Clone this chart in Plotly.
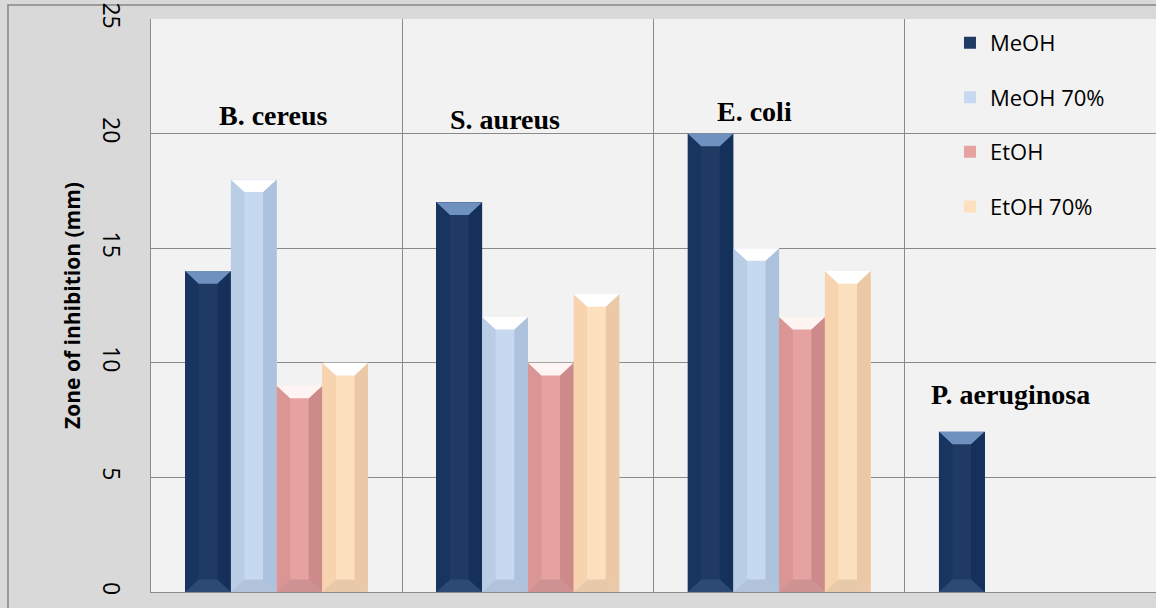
import plotly.graph_objects as go

# Inhibition zone diameters (mm) per bacterium and extract
bacteria = ["B. cereus", "S. aureus", "E. coli", "P. aeruginosa"]
meoh = [14, 17, 20, 7]
meoh_70 = [18, 12, 15, None]
etoh = [9, 10, 12, None]
etoh_70 = [10, 13, 14, None]

series_names = ["MeOH", "MeOH 70%", "EtOH", "EtOH 70%"]
series_values = [meoh, meoh_70, etoh, etoh_70]

# bevel palette per series: face, left edge, right edge, top cap, bottom cap
palette = [
    dict(face="#1f3a63", left="#183560", right="#15305a", top="#6f91c0", bottom="#2c4a73"),
    dict(face="#c6d9f1", left="#b9cde5", right="#adc2dc", top="#ffffff", bottom="#b1c3da"),
    dict(face="#e6a2a1", left="#d99694", right="#cc8b8a", top="#fff4f4", bottom="#cf9292"),
    dict(face="#fde0bd", left="#f8d3b0", right="#ebc8a6", top="#ffffff", bottom="#e8c9aa"),
]

BAR_W = 0.182     # bar width in category units
BEVEL_X = 0.054   # bevel depth, horizontal (category units)
BEVEL_Y = 0.55    # bevel depth, vertical (mm)

fig = go.Figure()


def polys(parts):
    xs, ys = [], []
    for px, py in parts:
        xs += px + [px[0], None]
        ys += py + [py[0], None]
    return xs, ys


for i, (name, vals, col) in enumerate(zip(series_names, series_values, palette)):
    off = (i - 2) * BAR_W
    xcat = list(range(len(bacteria)))
    fig.add_trace(go.Bar(
        x=xcat, y=vals, name=name, width=BAR_W, offset=off,
        marker=dict(color=col["face"], line=dict(width=0)),
        legendgroup=name, hoverinfo="skip",
    ))
    left, right, top, bottom = [], [], [], []
    for c, v in zip(xcat, vals):
        if v is None:
            continue
        x0 = c + off
        x1 = x0 + BAR_W
        xi0, xi1 = x0 + BEVEL_X, x1 - BEVEL_X
        yi0, yi1 = BEVEL_Y, v - BEVEL_Y
        left.append(([x0, xi0, xi0, x0], [0, yi0, yi1, v]))
        right.append(([x1, xi1, xi1, x1], [0, yi0, yi1, v]))
        top.append(([x0, x1, xi1, xi0], [v, v, yi1, yi1]))
        bottom.append(([x0, x1, xi1, xi0], [0, 0, yi0, yi0]))
    for parts, key in ((left, "left"), (right, "right"), (top, "top"), (bottom, "bottom")):
        xs, ys = polys(parts)
        fig.add_trace(go.Scatter(
            x=xs, y=ys, mode="lines", fill="toself", fillcolor=col[key],
            line=dict(width=0, color=col[key]), showlegend=False,
            hoverinfo="skip", legendgroup=name,
        ))

# bacterium names written inside the plot area
label_pos = [(-0.015, 20.8), (0.91, 20.6), (1.9, 20.95), (2.92, 8.6)]
for name, (lx, ly) in zip(bacteria, label_pos):
    fig.add_annotation(
        x=lx, y=ly, text=f"<b>{name}</b>", showarrow=False,
        font=dict(family="Liberation Serif", size=28, color="#000000"),
        xanchor="center", yanchor="middle",
    )

grid = "#8a8a8a"
fig.update_layout(
    width=1156, height=608,
    margin=dict(l=151, r=0, t=19, b=16),
    paper_bgcolor="#d9d9d9", plot_bgcolor="#f2f2f2",
    barmode="overlay", bargap=0,
    font=dict(family="Open Sans", color="#000000"),
    showlegend=True,
    legend=dict(
        x=0.795, y=0.995, xanchor="left", yanchor="top",
        bgcolor="rgba(0,0,0,0)", font=dict(family="Open Sans", size=22),
        traceorder="grouped", tracegroupgap=23, itemwidth=30,
    ),
    xaxis=dict(
        range=[-0.5, 3.5], tickvals=[-0.5, 0.5, 1.5, 2.5, 3.5],
        showticklabels=False, showgrid=True, gridcolor=grid, gridwidth=1,
        showline=True, linecolor=grid, linewidth=1, zeroline=False, ticks="",
    ),
    yaxis=dict(
        range=[0, 25], dtick=5, tickangle=90, showgrid=True, gridcolor=grid,
        gridwidth=1, showline=True, linecolor=grid, linewidth=1, zeroline=False,
        ticks="", ticklabelstandoff=19,
        tickfont=dict(family="Open Sans", size=23, color="#000000"),
        title=dict(text="<b>Zone of inhibition (mm)</b>", standoff=10,
                   font=dict(family="Open Sans", size=21, color="#000000")),
    ),
    shapes=[dict(
        type="rect", xref="paper", yref="paper",
        x0=-0.1423, x1=1.02, y0=-0.06, y1=1.0244,
        line=dict(color="#868686", width=1.5), fillcolor="rgba(0,0,0,0)", layer="below",
    )],
)

fig.write_html("out.html")
